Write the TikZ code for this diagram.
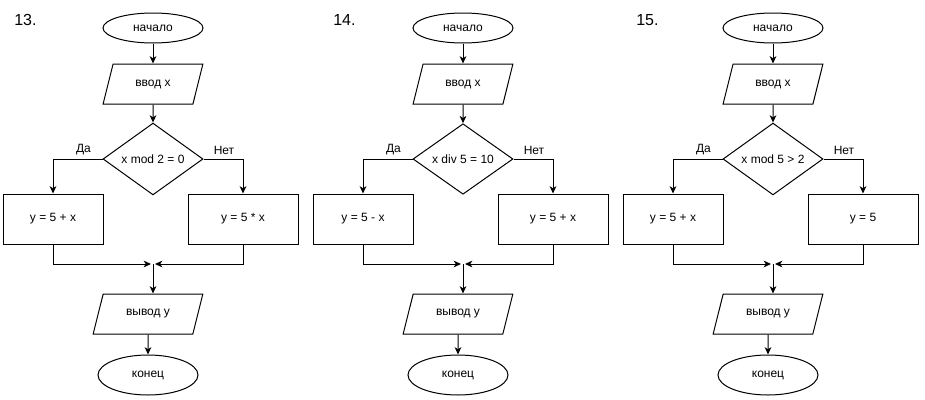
\documentclass[tikz,border=0pt]{standalone}
\usepackage{fontspec}
\setmainfont{Liberation Sans}
\usetikzlibrary{shapes.geometric,arrows.meta}

\begin{document}
\begin{tikzpicture}[x=0.75pt,y=0.75pt,yscale=-1,xscale=1,
  every node/.style={font=\fontsize{9}{10}\selectfont},
  term/.style={draw,ellipse,line width=0.75pt,minimum width=75pt,inner sep=0pt},
  inout/.style={draw,trapezium,trapezium stretches=true,line width=0.75pt,
    trapezium left angle=#1,trapezium right angle=180-#1,
    minimum height=30pt,inner sep=0pt},
  decision/.style={draw,diamond,line width=0.75pt,minimum width=75pt,minimum height=52.5pt,inner sep=0pt},
  process/.style={draw,rectangle,line width=0.75pt,minimum height=37.5pt,inner sep=0pt},
  conn/.style={line width=0.75pt,-{Stealth[length=5.5pt,width=5pt,inset=1.6pt]}},
  num/.style={anchor=base west,inner sep=0pt,font=\fontsize{12}{14}\selectfont},
  branch/.style={inner sep=0pt}]
\path (0,0) rectangle (925,400);

% Chart 13
\node [num] (lab13) at (14,25) {13.};
\node [term,minimum height=22.5pt] (start13) at (153,28) {начало};
\node [inout=63.43,minimum width=75pt] (in13) at (153,84) {ввод x};
\node [decision] (dec13) at (153,159) {x mod 2 = 0};
\node [process,minimum width=75pt] (pa13) at (53,219) {y = 5 + x};
\node [process,minimum width=82.5pt] (pb13) at (243,219) {y = 5 * x};
\coordinate (j13) at (153,264);
\node [inout=61.19,minimum width=82.5pt] (out13) at (148,314) {вывод y};
\node [term,minimum height=30pt] (end13) at (148,375) {конец};
% Text Node
\node [branch] (yes13) at (83.5,150) {Да};
\node [branch] (no13) at (224,150) {Нет};

\draw [conn] (start13) -- (in13);
\draw [conn] (in13) -- (dec13);
\draw [conn] (dec13.west) -| (pa13.north);
\draw [conn] (dec13.east) -| (pb13.north);
\draw [conn,shorten >=1.5pt] (pa13.south) |- (j13);
\draw [conn,shorten >=1.5pt] (pb13.south) |- (j13);
\draw [conn] (j13) -- (j13 |- out13.north);
\draw [conn] (out13) -- (end13);

% Chart 14
\node [num] (lab14) at (333,25) {14.};
\node [term,minimum height=22.5pt] (start14) at (463,28) {начало};
\node [inout=63.43,minimum width=75pt] (in14) at (463,84) {ввод x};
\node [decision] (dec14) at (463,159) {x div 5 = 10};
\node [process,minimum width=75pt] (pa14) at (363,219) {y = 5 - x};
\node [process,minimum width=82.5pt] (pb14) at (553,219) {y = 5 + x};
\coordinate (j14) at (463,264);
\node [inout=61.19,minimum width=82.5pt] (out14) at (458,314) {вывод y};
\node [term,minimum height=30pt] (end14) at (458,375) {конец};
% Text Node
\node [branch] (yes14) at (393.5,150) {Да};
\node [branch] (no14) at (534,150) {Нет};

\draw [conn] (start14) -- (in14);
\draw [conn] (in14) -- (dec14);
\draw [conn] (dec14.west) -| (pa14.north);
\draw [conn] (dec14.east) -| (pb14.north);
\draw [conn,shorten >=1.5pt] (pa14.south) |- (j14);
\draw [conn,shorten >=1.5pt] (pb14.south) |- (j14);
\draw [conn] (j14) -- (j14 |- out14.north);
\draw [conn] (out14) -- (end14);

% Chart 15
\node [num] (lab15) at (636,25) {15.};
\node [term,minimum height=22.5pt] (start15) at (773,28) {начало};
\node [inout=63.43,minimum width=75pt] (in15) at (773,84) {ввод x};
\node [decision] (dec15) at (773,159) {x mod 5 > 2};
\node [process,minimum width=75pt] (pa15) at (673,219) {y = 5 + x};
\node [process,minimum width=82.5pt] (pb15) at (863,219) {y = 5};
\coordinate (j15) at (773,264);
\node [inout=61.19,minimum width=82.5pt] (out15) at (768,314) {вывод y};
\node [term,minimum height=30pt] (end15) at (768,375) {конец};
% Text Node
\node [branch] (yes15) at (703.5,150) {Да};
\node [branch] (no15) at (844,150) {Нет};

\draw [conn] (start15) -- (in15);
\draw [conn] (in15) -- (dec15);
\draw [conn] (dec15.west) -| (pa15.north);
\draw [conn] (dec15.east) -| (pb15.north);
\draw [conn,shorten >=1.5pt] (pa15.south) |- (j15);
\draw [conn,shorten >=1.5pt] (pb15.south) |- (j15);
\draw [conn] (j15) -- (j15 |- out15.north);
\draw [conn] (out15) -- (end15);

\end{tikzpicture}
\end{document}
